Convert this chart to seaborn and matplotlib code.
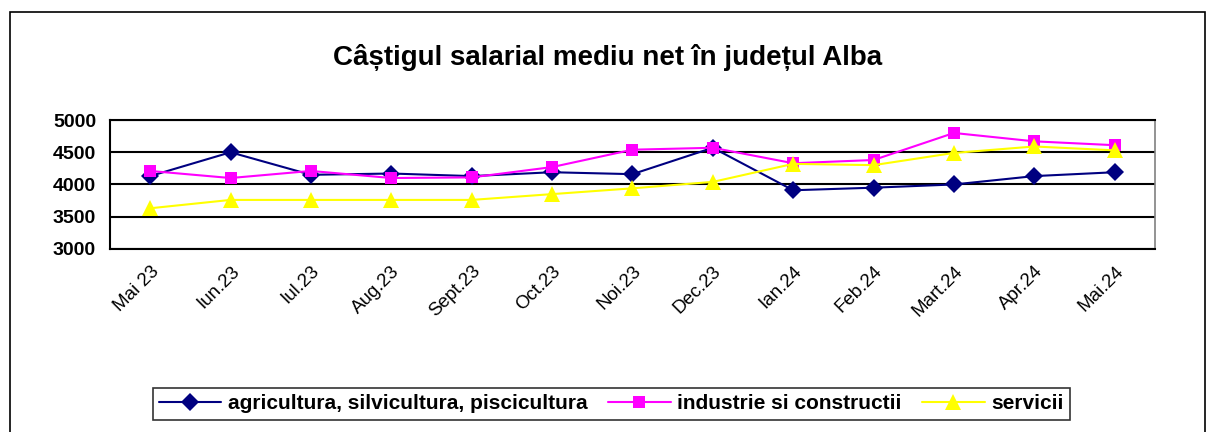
import matplotlib
matplotlib.use("Agg")
import matplotlib.pyplot as plt
import matplotlib.transforms as mtransforms
import seaborn as sns
import pandas as pd
from matplotlib.patches import Rectangle

months = ["Mai 23", "Iun.23", "Iul.23", "Aug.23", "Sept.23", "Oct.23", "Noi.23",
          "Dec.23", "Ian.24", "Feb.24", "Mart.24", "Apr.24", "Mai.24"]
agricultura = [4130, 4500, 4150, 4170, 4130, 4190, 4160, 4570, 3910, 3950, 4000, 4130, 4190]
industrie = [4210, 4100, 4210, 4100, 4110, 4270, 4540, 4570, 4330, 4380, 4800, 4670, 4610]
servicii = [3630, 3760, 3760, 3760, 3760, 3850, 3940, 4040, 4320, 4300, 4490, 4590, 4530]
series_names = ["agricultura, silvicultura, piscicultura", "industrie si constructii", "servicii"]

rows = []
for name, vals in zip(series_names, [agricultura, industrie, servicii]):
    for i, v in enumerate(vals):
        rows.append({"pos": i, "val": v, "serie": name})
df = pd.DataFrame(rows)

sns.set_style("white")
plt.rcParams["font.family"] = ["Liberation Sans", "DejaVu Sans"]
plt.rcParams["text.color"] = "black"
plt.rcParams["xtick.color"] = "black"
plt.rcParams["ytick.color"] = "black"

fig = plt.figure(figsize=(12.15, 4.32), dpi=100)
ax = fig.add_axes([0.0905, 0.424, 0.860, 0.298])

palette = {series_names[0]: "#000080", series_names[1]: "#FF00FF", series_names[2]: "#FFFF00"}
markers = {series_names[0]: "D", series_names[1]: "s", series_names[2]: "^"}
sns.lineplot(data=df, x="pos", y="val", hue="serie", style="serie", palette=palette,
             markers=markers, dashes=False, markersize=9, linewidth=1.5,
             markeredgewidth=0, ax=ax, legend="full")
# triangles look smaller than the other markers at the same size
for ln in ax.lines:
    if ln.get_marker() == "^":
        ln.set_markersize(11)

ax.set_xlim(-0.5, 12.5)
ax.set_ylim(3000, 5000)
ax.set_yticks([3000, 3500, 4000, 4500, 5000])
ax.yaxis.grid(True, color="black", linewidth=1.5)
ax.set_axisbelow(True)
ax.set_xticks(range(len(months)))
ax.set_xticklabels(months, rotation=45, ha="right", rotation_mode="anchor", fontsize=13.5)
shift = mtransforms.ScaledTranslation(-10 / 100, 0, fig.dpi_scale_trans)
for lab in ax.get_xticklabels():
    lab.set_transform(lab.get_transform() + shift)
ax.set_xticks([i - 0.5 for i in range(len(months) + 1)], minor=True)
ax.tick_params(axis="x", which="major", length=0, pad=10)
ax.tick_params(axis="x", which="minor", length=5, width=1.5, direction="out", color="black")
ax.tick_params(axis="y", length=5, width=1.5, direction="out", color="black", labelsize=14, pad=5)
for lab in ax.get_yticklabels():
    lab.set_fontweight("bold")
ax.set_xlabel("")
ax.set_ylabel("")
for s in ["left", "bottom", "top"]:
    ax.spines[s].set_color("black")
    ax.spines[s].set_linewidth(1.5)
ax.spines["right"].set_color("#808080")
ax.spines["right"].set_linewidth(1.2)

handles, labels = ax.get_legend_handles_labels()
ax.legend_.remove()
leg = fig.legend(handles, labels, loc="center", bbox_to_anchor=(0.503, 0.065), ncol=3,
                 frameon=True, fancybox=False, edgecolor="black",
                 prop={"weight": "bold", "size": 15}, handlelength=3.0,
                 columnspacing=1.0, handletextpad=0.3, borderpad=0.3)
leg.get_frame().set_linewidth(1.2)

fig.text(0.5, 0.868, "Câștigul salarial mediu net în județul Alba", ha="center", va="center",
         fontsize=20, fontweight="bold")

fig.patches.append(Rectangle((0.008, -0.01), 0.984, 0.982, transform=fig.transFigure,
                             fill=False, edgecolor="black", linewidth=1.2))

fig.savefig("out.png", dpi=100)
